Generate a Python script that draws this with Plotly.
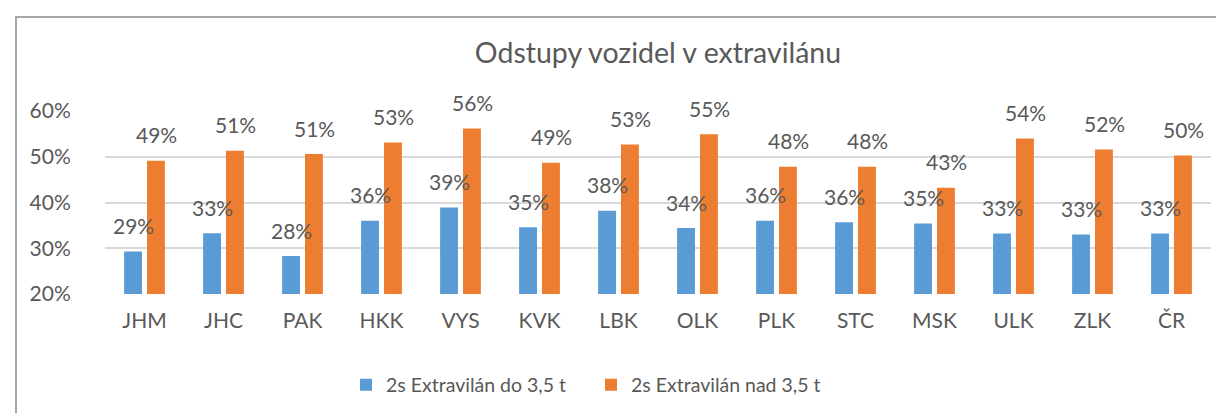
import plotly.graph_objects as go

categories = ["JHM", "JHC", "PAK", "HKK", "VYS", "KVK", "LBK", "OLK", "PLK", "STC", "MSK", "ULK", "ZLK", "ČR"]
series_names = ["2s Extravilán do 3,5 t", "2s Extravilán nad 3,5 t"]
values_light = [29.3, 33.3, 28.3, 36.0, 38.9, 34.6, 38.2, 34.4, 36.0, 35.7, 35.4, 33.2, 33.0, 33.2]
values_heavy = [49.1, 51.3, 50.6, 53.1, 56.2, 48.7, 52.7, 54.9, 47.8, 47.8, 43.2, 54.0, 51.6, 50.3]
y_ticks = [20, 30, 40, 50, 60]
y_tick_labels = ["20%", "30%", "40%", "50%", "60%"]
title_text = "Odstupy vozidel v extravilánu"

colors = ["#5B9BD5", "#ED7D31"]
text_color = "#595959"
FONT = "Lato"

fig = go.Figure()
for name, vals, col in zip(series_names, [values_light, values_heavy], colors):
    fig.add_trace(go.Bar(x=categories, y=vals, name=name, marker_color=col,
                         marker_line_width=0, hoverinfo="skip"))

annotations = []
for vals, shift in [(values_light, -11.5), (values_heavy, 11.5)]:
    for c, v in zip(categories, vals):
        annotations.append(dict(x=c, y=v, xref="x", yref="y", text=f"{int(v + 0.5)}%",
                                showarrow=False, xshift=shift, yshift=26,
                                xanchor="center", yanchor="middle",
                                font=dict(family=FONT, size=21, color=text_color)))

fig.update_layout(
    width=1224, height=413,
    margin=dict(l=97, r=21, t=103, b=127),
    paper_bgcolor="white", plot_bgcolor="white",
    barmode="group", bargap=0.42, bargroupgap=0.22,
    title=dict(text=title_text, x=0.5, xref="paper", xanchor="center",
               y=1 - 45 / 413, yref="container", yanchor="middle",
               font=dict(family=FONT, size=28.5, color=text_color)),
    font=dict(family=FONT, color=text_color),
    showlegend=True,
    legend=dict(orientation="h", x=(583 - 97) / 1106, xanchor="center",
                y=(286 - 377) / 183, yanchor="middle",
                font=dict(family=FONT, size=19.5, color=text_color),
                itemwidth=30, entrywidth=200, entrywidthmode="pixels",
                traceorder="normal"),
    annotations=annotations,
    shapes=[dict(type="rect", xref="paper", yref="paper",
                 x0=(8 - 97) / 1106, x1=(1240 - 97) / 1106,
                 y0=(286 - 430) / 183, y1=(286 - 9) / 183,
                 line=dict(color="#a6a6a6", width=2), fillcolor="rgba(0,0,0,0)", layer="below")],
)
fig.update_xaxes(showgrid=False, showline=False, zeroline=False,
                 ticks="outside", ticklen=8, tickcolor="rgba(0,0,0,0)",
                 tickfont=dict(family=FONT, size=21, color=text_color), fixedrange=True)
fig.update_yaxes(range=[20, 60], tickvals=y_ticks, ticktext=y_tick_labels,
                 showgrid=True, gridcolor="#d9d9d9", gridwidth=1.5,
                 zeroline=False, showline=False,
                 ticks="outside", ticklen=29, tickcolor="rgba(0,0,0,0)",
                 tickfont=dict(family=FONT, size=21, color=text_color), fixedrange=True)

fig.write_html("out.html")
